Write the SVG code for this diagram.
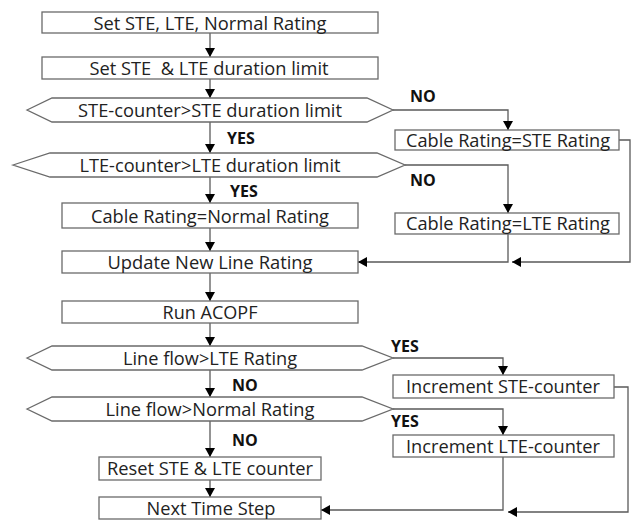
<svg xmlns="http://www.w3.org/2000/svg" width="637" height="521" viewBox="0 0 637 521">
<style>
.box{fill:#fff;stroke:#6a6a6a;stroke-width:1.3}
.t{font-family:"Open Sans","Liberation Sans",sans-serif;font-size:19px;fill:#222;text-anchor:middle}
.lb{font-family:"Open Sans","Liberation Sans",sans-serif;font-size:16px;font-weight:bold;fill:#111}
.c{fill:none;stroke:#5a5a5a;stroke-width:1.3}
</style>
<defs>
<marker id="ah" markerUnits="userSpaceOnUse" markerWidth="10" markerHeight="10" refX="9" refY="5" orient="auto">
<path d="M0,0 L9,5 L0,10 Z" fill="#000"/>
</marker>
</defs>
<rect width="637" height="521" fill="#fff"/>
<g id="connectors">
<path class="c" d="M210,33 V57" marker-end="url(#ah)"/>
<path class="c" d="M210,79 V98" marker-end="url(#ah)"/>
<path class="c" d="M210,122 V153" marker-end="url(#ah)"/>
<path class="c" d="M210,177 V203" marker-end="url(#ah)"/>
<path class="c" d="M210,228 V251" marker-end="url(#ah)"/>
<path class="c" d="M210,273 V301" marker-end="url(#ah)"/>
<path class="c" d="M210,323 V346" marker-end="url(#ah)"/>
<path class="c" d="M210,370 V397" marker-end="url(#ah)"/>
<path class="c" d="M210,421 V457" marker-end="url(#ah)"/>
<path class="c" d="M210,480 V497" marker-end="url(#ah)"/>
<path class="c" d="M393,110 H508 V130" marker-end="url(#ah)"/>
<path class="c" d="M405,165 H508 V213" marker-end="url(#ah)"/>
<path class="c" d="M508,234 V262 H358" marker-end="url(#ah)"/>
<path class="c" d="M619,140 H630 V262 H512" marker-end="url(#ah)"/>
<path class="c" d="M393,358 H503 V375" marker-end="url(#ah)"/>
<path class="c" d="M393,409 H503 V435" marker-end="url(#ah)"/>
<path class="c" d="M503,457 V510 H321" marker-end="url(#ah)"/>
<path class="c" d="M614,387 H628 V512 H508" marker-end="url(#ah)"/>
<text class="lb" x="227" y="144">YES</text>
<text class="lb" x="230" y="197">YES</text>
<text class="lb" x="410" y="102">NO</text>
<text class="lb" x="410" y="186">NO</text>
<text class="lb" x="232" y="391">NO</text>
<text class="lb" x="232" y="446">NO</text>
<text class="lb" x="391" y="352">YES</text>
<text class="lb" x="391" y="427">YES</text>
</g>
<g id="n1"><rect class="box" x="42" y="12" width="336" height="21"/><text class="t" x="210" y="29.5" textLength="233" lengthAdjust="spacingAndGlyphs">Set STE, LTE, Normal Rating</text></g>
<g id="n2"><rect class="box" x="42" y="57" width="336" height="22"/><text class="t" x="209" y="75" textLength="239" lengthAdjust="spacingAndGlyphs" xml:space="preserve">Set STE  &amp; LTE duration limit</text></g>
<g id="d1"><polygon class="box" points="27,110 52,98 367,98 393,110 367,122 52,122"/><text class="t" x="210" y="117" textLength="264" lengthAdjust="spacingAndGlyphs">STE-counter&gt;STE duration limit</text></g>
<g id="d2"><polygon class="box" points="13,165 50,153 377,153 405,165 377,177 50,177"/><text class="t" x="210" y="172" textLength="261" lengthAdjust="spacingAndGlyphs">LTE-counter&gt;LTE duration limit</text></g>
<g id="n3"><rect class="box" x="62" y="203" width="296" height="25"/><text class="t" x="210" y="222.5" textLength="238" lengthAdjust="spacingAndGlyphs">Cable Rating=Normal Rating</text></g>
<g id="n4"><rect class="box" x="62" y="251" width="296" height="22"/><text class="t" x="210" y="269" textLength="205" lengthAdjust="spacingAndGlyphs">Update New Line Rating</text></g>
<g id="n5"><rect class="box" x="62" y="301" width="296" height="22"/><text class="t" x="210" y="318.5" textLength="95" lengthAdjust="spacingAndGlyphs">Run ACOPF</text></g>
<g id="d3"><polygon class="box" points="27,358 52,346 362,346 393,358 362,370 52,370"/><text class="t" x="210" y="365" textLength="174" lengthAdjust="spacingAndGlyphs">Line flow&gt;LTE Rating</text></g>
<g id="d4"><polygon class="box" points="27,409 52,397 362,397 393,409 362,421 52,421"/><text class="t" x="210" y="415.5" textLength="209" lengthAdjust="spacingAndGlyphs">Line flow&gt;Normal Rating</text></g>
<g id="n6"><rect class="box" x="99" y="457" width="222" height="23"/><text class="t" x="210" y="475" textLength="206" lengthAdjust="spacingAndGlyphs">Reset STE &amp; LTE counter</text></g>
<g id="n7"><rect class="box" x="99" y="497" width="222" height="22"/><text class="t" x="211" y="514.5" textLength="129" lengthAdjust="spacingAndGlyphs">Next Time Step</text></g>
<g id="n8"><rect class="box" x="395" y="130" width="224" height="20"/><text class="t" x="508" y="146.5" textLength="204" lengthAdjust="spacingAndGlyphs">Cable Rating=STE Rating</text></g>
<g id="n9"><rect class="box" x="395" y="213" width="224" height="21"/><text class="t" x="508" y="230" textLength="204" lengthAdjust="spacingAndGlyphs">Cable Rating=LTE Rating</text></g>
<g id="n10"><rect class="box" x="393" y="375" width="221" height="23"/><text class="t" x="503" y="393" textLength="194" lengthAdjust="spacingAndGlyphs">Increment STE-counter</text></g>
<g id="n11"><rect class="box" x="393" y="435" width="221" height="22"/><text class="t" x="503" y="452.5" textLength="194" lengthAdjust="spacingAndGlyphs">Increment LTE-counter</text></g>
</svg>
